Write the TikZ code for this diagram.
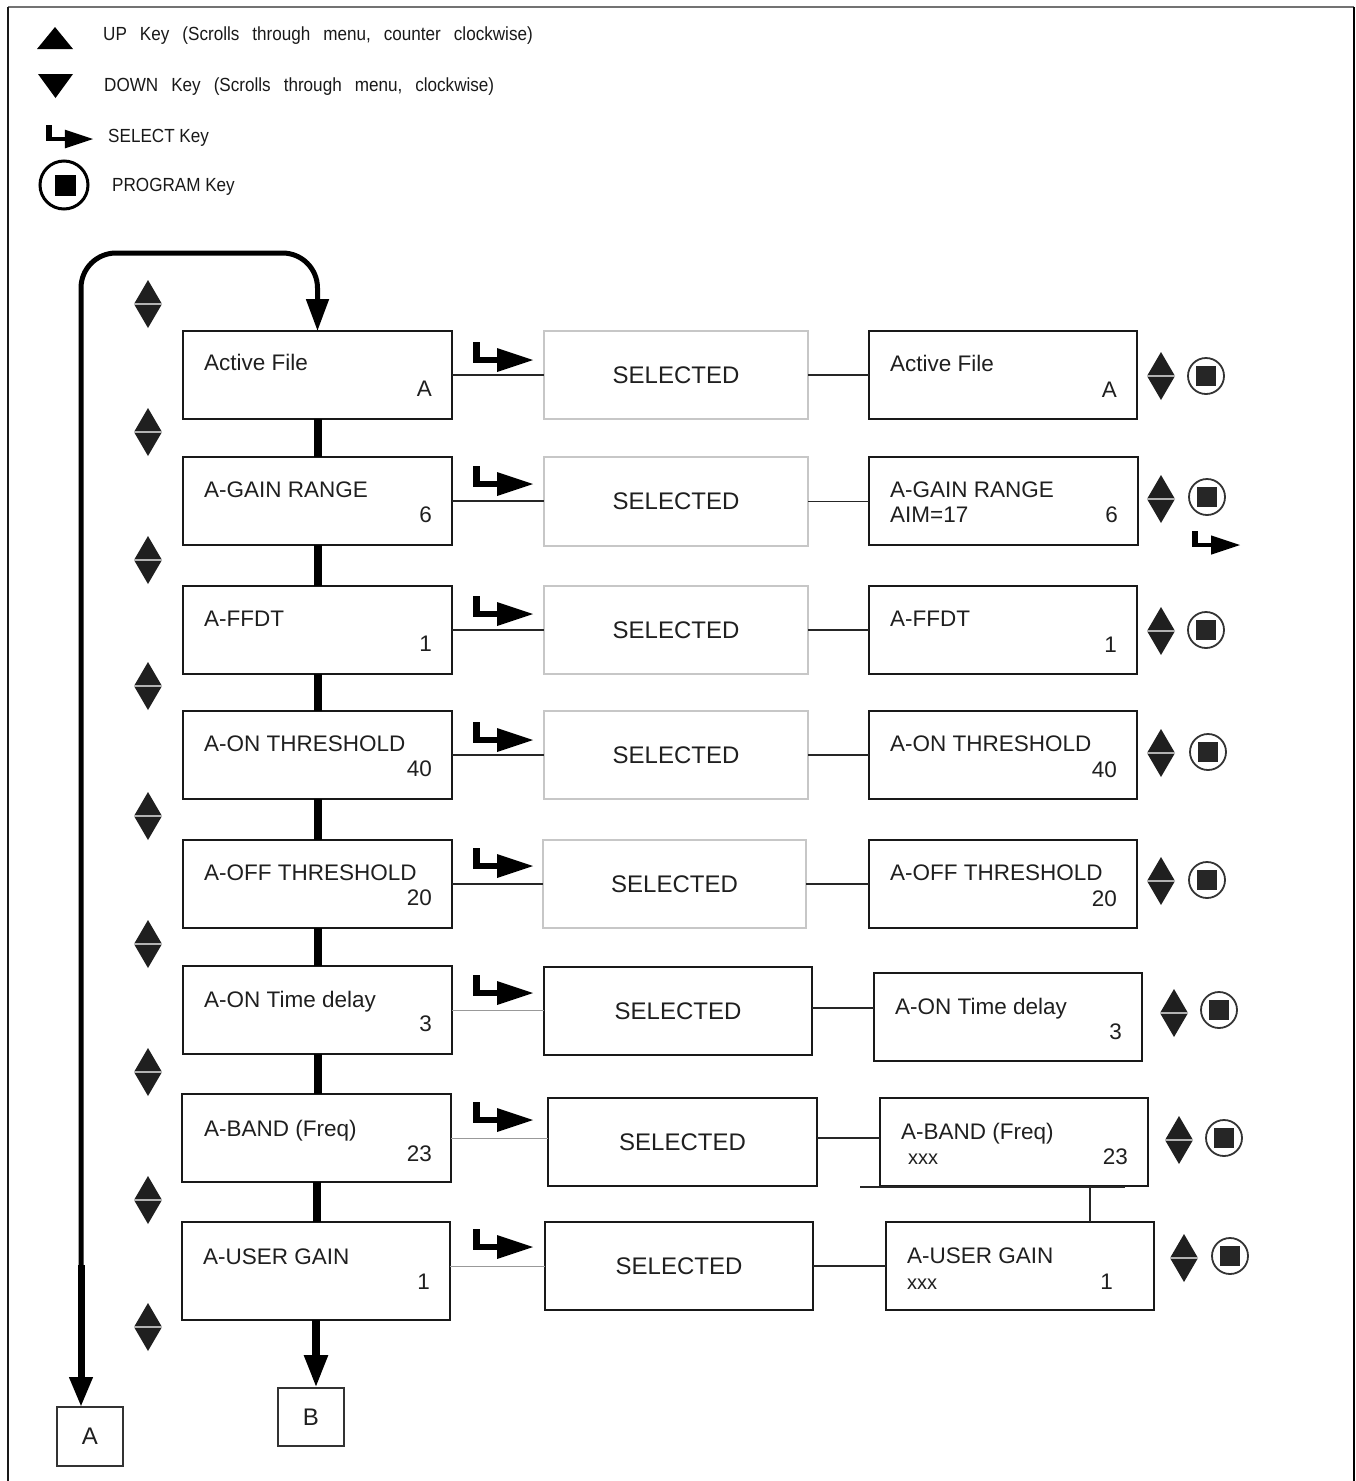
\documentclass[tikz,border=0pt]{standalone}
\usepackage{fontspec}
\setmainfont{Liberation Sans}
\newfontfamily\legendfont[FakeStretch=0.9]{Liberation Sans}
\usetikzlibrary{arrows.meta}
\tikzset{
  mbox/.style={draw=black!90, line width=2pt, anchor=north west, inner sep=0pt, outer sep=0pt},
  sboxg/.style={mbox, draw=black!22, line width=1.6pt, font=\fontsize{24}{28}\selectfont, text=black!88},
  sboxk/.style={mbox, font=\fontsize{24}{28}\selectfont, text=black!88},
  letterbox/.style={mbox, draw=black!80, font=\fontsize{24}{28}\selectfont, text=black!88},
  lbl/.style={anchor=base west, inner sep=0pt, font=\fontsize{22.5}{27}\selectfont, text=black!88},
  val/.style={anchor=base east, inner sep=0pt, font=\fontsize{22.5}{27}\selectfont, text=black!88},
  smalltxt/.style={anchor=base west, inner sep=0pt, font=\fontsize{20}{24}\selectfont, text=black!88},
  legend/.style={anchor=base west, inner sep=0pt, font={\legendfont\fontsize{19}{23}\selectfont}, text=black!90},
  legendw/.style={anchor=base west, inner sep=0pt, font={\legendfont\fontsize{19}{23}\selectfont\spaceskip=13pt plus 1pt\relax}, text=black!90},
  hconn/.style={line width=1.4pt, black!85},
  gconn/.style={line width=1pt, black!40},
  vconn/.style={line width=8pt, black},
  loopline/.style={line width=5pt, black, rounded corners=35pt},
  updown/.pic={
    \fill[black!88] (0,-24) -- (14,0) -- (0,24) -- (-14,0) -- cycle;
    \draw[black!30, line width=1.6pt] (-14,0) -- (14,0);
  },
  prog/.pic={
    \draw[black!80, line width=1.8pt] (0,0) circle (18pt);
    \fill[black!85] (-10,-10) rectangle (10,10);
  },
  selkey/.pic={
    \fill[black] (-60,-18) rectangle (-53,3);
    \fill[black] (-60,-3) rectangle (-34,3);
    \fill[black] (-36,-12) -- (0,0) -- (-36,12) -- cycle;
  }
}
\begin{document}
\begin{tikzpicture}[x=1pt,y=-1pt]
\useasboundingbox (0,0) rectangle (1356,1481);
% frame
\draw[black!55, line width=1.5pt] (8,7) -- (1354,7);
\draw[black!90, line width=2pt] (8,1481) -- (8,7);
\draw[black, line width=2.5pt] (1354,7) -- (1354,1481);

% legend
\fill[black] (37,49) -- (73,49) -- (55,27) -- cycle;
\fill[black] (38,74) -- (73,74) -- (55.5,98) -- cycle;
\pic[scale=0.78] at (93,139) {selkey};
\draw[black, line width=3pt] (64,185) circle (24pt);
\fill[black] (54.5,175) rectangle (75.5,196);
\node[legendw] (lgUp) at (103,40.5) {UP Key (Scrolls through menu, counter clockwise)};
\node[legendw] (lgDown) at (104,91) {DOWN Key (Scrolls through menu, clockwise)};
\node[legend] (lgSel) at (108,142) {SELECT Key};
\node[legend] (lgProg) at (112,191) {PROGRAM Key};

% left column boxes
\node[mbox,minimum width=269pt,minimum height=88pt] (lb1) at (183,331) {};
\node[mbox,minimum width=269pt,minimum height=88pt] (lb2) at (183,457) {};
\node[mbox,minimum width=269pt,minimum height=88pt] (lb3) at (183,586) {};
\node[mbox,minimum width=269pt,minimum height=88pt] (lb4) at (183,711) {};
\node[mbox,minimum width=269pt,minimum height=88pt] (lb5) at (183,840) {};
\node[mbox,minimum width=269pt,minimum height=88pt] (lb6) at (183,966) {};
\node[mbox,minimum width=269pt,minimum height=88pt] (lb7) at (182,1094) {};
\node[mbox,minimum width=268pt,minimum height=98pt] (lb8) at (182,1222) {};

\node[lbl] (lb1t) at ([shift={(21,39)}]lb1.north west) {Active File};
\node[val] (lb1v) at ([shift={(-20,65)}]lb1.north east) {A};
\node[lbl] (lb2t) at ([shift={(21,40)}]lb2.north west) {A-GAIN RANGE};
\node[val] (lb2v) at ([shift={(-20,65)}]lb2.north east) {6};
\node[lbl] (lb3t) at ([shift={(21,40)}]lb3.north west) {A-FFDT};
\node[val] (lb3v) at ([shift={(-20,65)}]lb3.north east) {1};
\node[lbl] (lb4t) at ([shift={(21,40)}]lb4.north west) {A-ON THRESHOLD};
\node[val] (lb4v) at ([shift={(-20,65)}]lb4.north east) {40};
\node[lbl] (lb5t) at ([shift={(21,40)}]lb5.north west) {A-OFF THRESHOLD};
\node[val] (lb5v) at ([shift={(-20,65)}]lb5.north east) {20};
\node[lbl] (lb6t) at ([shift={(21,41)}]lb6.north west) {A-ON Time delay};
\node[val] (lb6v) at ([shift={(-20,65)}]lb6.north east) {3};
\node[lbl] (lb7t) at ([shift={(22,42)}]lb7.north west) {A-BAND (Freq)};
\node[val] (lb7v) at ([shift={(-19,67)}]lb7.north east) {23};
\node[lbl] (lb8t) at ([shift={(21,42)}]lb8.north west) {A-USER GAIN};
\node[val] (lb8v) at ([shift={(-20,67)}]lb8.north east) {1};

% SELECTED boxes
\node[sboxg,minimum width=264pt,minimum height=88pt] (sb1) at (544,331) {SELECTED};
\node[sboxg,minimum width=264pt,minimum height=89pt] (sb2) at (544,457) {SELECTED};
\node[sboxg,minimum width=264pt,minimum height=88pt] (sb3) at (544,586) {SELECTED};
\node[sboxg,minimum width=264pt,minimum height=88pt] (sb4) at (544,711) {SELECTED};
\node[sboxg,minimum width=263pt,minimum height=88pt] (sb5) at (543,840) {SELECTED};
\node[sboxk,minimum width=268pt,minimum height=88pt] (sb6) at (544,967) {SELECTED};
\node[sboxk,minimum width=269pt,minimum height=88pt] (sb7) at (548,1098) {SELECTED};
\node[sboxk,minimum width=268pt,minimum height=88pt] (sb8) at (545,1222) {SELECTED};

% right column boxes
\node[mbox,minimum width=268pt,minimum height=88pt] (rb1) at (869,331) {};
\node[mbox,minimum width=269pt,minimum height=88pt] (rb2) at (869,457) {};
\node[mbox,minimum width=268pt,minimum height=88pt] (rb3) at (869,586) {};
\node[mbox,minimum width=268pt,minimum height=88pt] (rb4) at (869,711) {};
\node[mbox,minimum width=268pt,minimum height=88pt] (rb5) at (869,840) {};
\node[mbox,minimum width=268pt,minimum height=88pt] (rb6) at (874,973) {};
\node[mbox,minimum width=268pt,minimum height=88pt] (rb7) at (880,1098) {};
\node[mbox,minimum width=268pt,minimum height=88pt] (rb8) at (886,1222) {};

\node[lbl] (rb1t) at ([shift={(21,40)}]rb1.north west) {Active File};
\node[val] (rb1v) at ([shift={(-20,66)}]rb1.north east) {A};
\node[lbl] (rb2t) at ([shift={(21,40)}]rb2.north west) {A-GAIN RANGE};
\node[lbl] (rb2a) at ([shift={(21,65)}]rb2.north west) {AIM=17};
\node[val] (rb2v) at ([shift={(-20,65)}]rb2.north east) {6};
\node[lbl] (rb3t) at ([shift={(21,40)}]rb3.north west) {A-FFDT};
\node[val] (rb3v) at ([shift={(-20,66)}]rb3.north east) {1};
\node[lbl] (rb4t) at ([shift={(21,40)}]rb4.north west) {A-ON THRESHOLD};
\node[val] (rb4v) at ([shift={(-20,66)}]rb4.north east) {40};
\node[lbl] (rb5t) at ([shift={(21,40)}]rb5.north west) {A-OFF THRESHOLD};
\node[val] (rb5v) at ([shift={(-20,66)}]rb5.north east) {20};
\node[lbl] (rb6t) at ([shift={(21,41)}]rb6.north west) {A-ON Time delay};
\node[val] (rb6v) at ([shift={(-20,66)}]rb6.north east) {3};
\node[lbl] (rb7t) at ([shift={(21,41)}]rb7.north west) {A-BAND (Freq)};
\node[smalltxt] (rb7x) at ([shift={(28,66)}]rb7.north west) {xxx};
\node[val] (rb7v) at ([shift={(-20,66)}]rb7.north east) {23};
\node[lbl] (rb8t) at ([shift={(21,41)}]rb8.north west) {A-USER GAIN};
\node[smalltxt] (rb8x) at ([shift={(21,67)}]rb8.north west) {xxx};
\node[val] (rb8v) at ([shift={(-41,67)}]rb8.north east) {1};

% A / B boxes
\node[letterbox,minimum width=66pt,minimum height=59pt] (A) at (57,1407) {A};
\node[letterbox,minimum width=66pt,minimum height=58pt] (B) at (278,1388) {B};

% vertical connectors of the menu
\foreach \a/\b in {lb1/lb2,lb2/lb3,lb3/lb4,lb4/lb5,lb5/lb6,lb6/lb7,lb7/lb8}
  \draw[vconn] (\a.south) -- (\a.south |- \b.north);
\draw[vconn, -{Triangle[length=33pt,width=22pt]}] (lb8.south) -- (lb8.south |- B.north);

% loop back
\coordinate (lpTop) at (81,253);
\coordinate (lpBreak) at (81,1265);
\draw[loopline, -{Triangle[length=32pt,width=22pt]}] (lpBreak) -- (lpTop) -- (lpTop -| lb1.north) -- (lb1.north);
\draw[vconn, line width=7pt, -{Triangle[length=30pt,width=22pt]}] (lpBreak) -- (lpBreak |- A.north);

% horizontal connectors
\foreach \i in {1,...,5}{
  \draw[hconn] (lb\i.east) -- (lb\i.east -| sb\i.west);
  \draw[hconn] (sb\i.east) -- (sb\i.east -| rb\i.west);
}
\draw[gconn] (lb6.east) -- (lb6.east -| sb6.west);
\draw[hconn] ([yshift=3pt]sb6.east) -- ([yshift=3pt]sb6.east -| rb6.west);
\draw[gconn] (lb7.east) -- (lb7.east -| sb7.west);
\draw[hconn] (lb7.east -| sb7.east) -- (lb7.east -| rb7.west);
\draw[gconn] (sb8.west -| lb8.east) -- (sb8.west);
\draw[hconn] (sb8.east) -- (sb8.east -| rb8.west);

% extra lines under A-BAND
\coordinate (bandL) at (860,1187);
\coordinate (bandR) at (1125,1187);
\coordinate (bandJ) at (1090,1187);
\draw[hconn] (bandL) -- (bandR);
\draw[hconn] (bandJ) -- (bandJ |- rb8.north);

% select keys
\foreach \y in {360,484,614,740,866,993,1120,1247}
  \pic at (533,\y) {selkey};
\pic[scale=0.8] at (1240,545) {selkey};

% left up/down keys
\foreach \y in {304,432,560,686,816,944,1072,1200,1327}
  \pic at (148,\y) {updown};

% right up/down and program keys
\foreach \dx/\dy/\px/\py in {1161/376/1206/376, 1161/499/1207/497, 1161/631/1206/630, 1161/753/1208/752, 1161/881/1207/880, 1174/1013/1219/1010, 1179/1140/1224/1138, 1184/1258/1230/1256}{
  \pic at (\dx,\dy) {updown};
  \pic at (\px,\py) {prog};
}
\end{tikzpicture}
\end{document}
